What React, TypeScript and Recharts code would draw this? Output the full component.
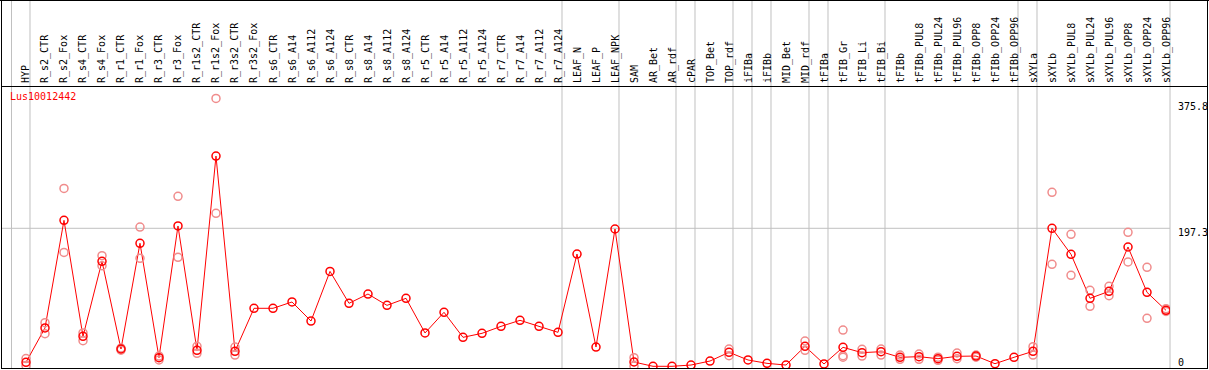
import { LineChart, Line, XAxis, YAxis, ReferenceLine } from "recharts";

const categories = [
  "HYP",
  "R_s2_CTR", "R_s2_Fox", "R_s4_CTR", "R_s4_Fox", "R_r1_CTR", "R_r1_Fox",
  "R_r3_CTR", "R_r3_Fox", "R_r1s2_CTR", "R_r1s2_Fox", "R_r3s2_CTR", "R_r3s2_Fox",
  "R_s6_CTR", "R_s6_A14", "R_s6_A112", "R_s6_A124",
  "R_s8_CTR", "R_s8_A14", "R_s8_A112", "R_s8_A124",
  "R_r5_CTR", "R_r5_A14", "R_r5_A112", "R_r5_A124",
  "R_r7_CTR", "R_r7_A14", "R_r7_A112", "R_r7_A124",
  "LEAF_N", "LEAF_P", "LEAF_NPK",
  "SAM", "AR_Bet", "AR_rdf", "cPAR", "TOP_Bet", "TOP_rdf", "iFIBa", "iFIBb",
  "MID_Bet", "MID_rdf", "tFIBa", "tFIB_Gr", "tFIB_Li", "tFIB_Bi",
  "tFIBb", "tFIBb_PUL8", "tFIBb_PUL24", "tFIBb_PUL96", "tFIBb_OPP8", "tFIBb_OPP24", "tFIBb_OPP96",
  "sXYLa", "sXYLb", "sXYLb_PUL8", "sXYLb_PUL24", "sXYLb_PUL96", "sXYLb_OPP8", "sXYLb_OPP24", "sXYLb_OPP96",
];

// mean expression per sample
const meanValues = [
  6.7,
  55.5, 208.6, 43.6, 150.3, 25.6, 176, 13.3, 200.6, 23.7, 300, 22.3, 83.5,
  83.5, 92.5, 65.4, 136,
  90.6, 103.8, 87.7, 97.7,
  48.4, 77.8, 42.2, 47.9,
  57.8, 66.4, 57.8, 49.3,
  160.7, 28.4, 196.3,
  7.1, 1, 1, 2.8, 8.5, 20.9, 10, 5.2,
  2.8, 29.4, 4.3, 28, 20.4, 21.8,
  13.8, 14.7, 11.8, 15.2, 15.6, 4.7, 13.8,
  22.3, 197.3, 160.3, 97.7, 107.6, 170.7, 106.2, 80.6,
];

// replicates (null = none drawn)
const rep1 = [
  12,
  63, 254, 48.4, 158.4, 27, 199, 15.6, 242.8, 29.4, 382, 28.4, null,
  null, null, null, null,
  null, null, null, null,
  null, null, null, null,
  null, null, null, null,
  null, null, null,
  13.3, null, null, null, null, 25.6, null, null,
  null, 37, null, 52.6, 25.2, 25.6,
  17, 18.5, 14, 19.9, 17, null, null,
  28.9, 248.5, 188.7, 109, 114.7, 191.6, 141.8, 83,
];

const rep2 = [
  2,
  47.4, 163, 37.5, 144, 24, 154.6, 10, 156, 19.5, 218.6, 17, null,
  null, null, null, null,
  null, null, null, null,
  null, null, null, null,
  null, null, null, null,
  null, null, null,
  1.4, null, null, null, null, 16.1, null, null,
  null, 23.7, null, 16, 15.5, 17,
  11, 11, 9.5, 11.8, 14, null, null,
  17, 146, 130.4, 86.3, 101.4, 149.4, 69.3, 79,
];

const rep3 = categories.map((c) => (c === "tFIB_Gr" ? 14 : null));

// last sample index of each group (separator lines); the leading one is drawn in the frame
const groupEnds = [0, 28, 31, 34, 35, 37, 38, 39, 41, 42, 45, 52, 53, 60];

const yTicks = [0, 197.3, 375.8];

const OFFSET = 2;
const X_MIN = OFFSET - 1.263;
const X_MAX = OFFSET + 60.21;
const Y_MIN = -1.42;
const Y_MAX = 520.6;

const data = categories.map((name, i) => ({
  pos: i + OFFSET,
  name,
  mean: meanValues[i],
  r1: rep1[i],
  r2: rep2[i],
  r3: rep3[i],
}));

const MONO = "'DejaVu Sans Mono', 'Liberation Mono', monospace";
const GRID = "#c0c0c0";

const HeaderTick = (props: any) => {
  const { x, payload } = props;
  return (
    <text
      x={x}
      y={83}
      transform={`rotate(-90 ${x} 83)`}
      textAnchor="start"
      dominantBaseline="central"
      fontSize={10}
      fontFamily={MONO}
      fill="#000"
    >
      {categories[payload.value - OFFSET]}
    </text>
  );
};

const RightTick = (props: any) => {
  const { y, payload } = props;
  return (
    <text x={1178} y={Math.min(y + 7.5, 365.5)} fontSize={10} fontFamily={MONO} fill="#000">
      {payload.value}
    </text>
  );
};

const repDot = (props: any) => {
  const { cx, cy, value, index } = props;
  if (value == null || cy == null) return <g key={`r${index}`} />;
  return (
    <circle key={`r${index}-${cx}`} cx={cx} cy={cy} r={4} fill="none" stroke="#f08c8c" strokeWidth={1.5} />
  );
};

export default function App() {
  return (
    <div style={{ position: "relative", width: 1209, height: 370, background: "#fff" }}>
      <style>{"body{margin:0}"}</style>
      <LineChart width={1209} height={370} data={data} margin={{ top: 0, right: 3, left: 2, bottom: 2 }}>
        <XAxis
          dataKey="pos"
          type="number"
          orientation="top"
          height={1}
          domain={[X_MIN, X_MAX]}
          allowDataOverflow
          ticks={categories.map((_, i) => i + OFFSET)}
          interval={0}
          axisLine={false}
          tickLine={false}
          tick={HeaderTick}
        />
        <YAxis
          orientation="right"
          width={36}
          type="number"
          domain={[Y_MIN, Y_MAX]}
          allowDataOverflow
          ticks={yTicks}
          interval={0}
          axisLine={false}
          tickLine={false}
          tick={RightTick}
        />
        {groupEnds.map((g) => (
          <ReferenceLine
            key={`g${g}`}
            x={g + OFFSET + 0.21}
            stroke={GRID}
            strokeWidth={1}
            ifOverflow="visible"
          />
        ))}
        <ReferenceLine y={197.3} stroke={GRID} strokeWidth={1} />
        <Line dataKey="r1" stroke="none" dot={repDot} activeDot={false} isAnimationActive={false} />
        <Line dataKey="r2" stroke="none" dot={repDot} activeDot={false} isAnimationActive={false} />
        <Line dataKey="r3" stroke="none" dot={repDot} activeDot={false} isAnimationActive={false} />
        <Line
          dataKey="mean"
          type="linear"
          stroke="#ff0000"
          strokeWidth={1}
          dot={{ r: 4, stroke: "#ff0000", strokeWidth: 1.5, fill: "none" }}
          activeDot={false}
          isAnimationActive={false}
        />
      </LineChart>
      <div style={{ position: "absolute", left: 11, top: 0, width: 1, height: 369, background: GRID }} />
      <div style={{ position: "absolute", left: 10, top: 92, fontFamily: MONO, fontSize: 10, lineHeight: "10px", color: "#ff0000" }}>
        Lus10012442
      </div>
      <div style={{ position: "absolute", left: 0, top: 0, width: 1209, height: 1, background: "#000" }} />
      <div style={{ position: "absolute", left: 1, top: 0, width: 1, height: 369, background: "#000" }} />
      <div style={{ position: "absolute", left: 1, top: 86, width: 1207, height: 1, background: "#000" }} />
      <div style={{ position: "absolute", left: 1, top: 368, width: 1207, height: 1, background: "#000" }} />
      <div style={{ position: "absolute", left: 1207, top: 0, width: 1, height: 369, background: "#000" }} />
    </div>
  );
}
